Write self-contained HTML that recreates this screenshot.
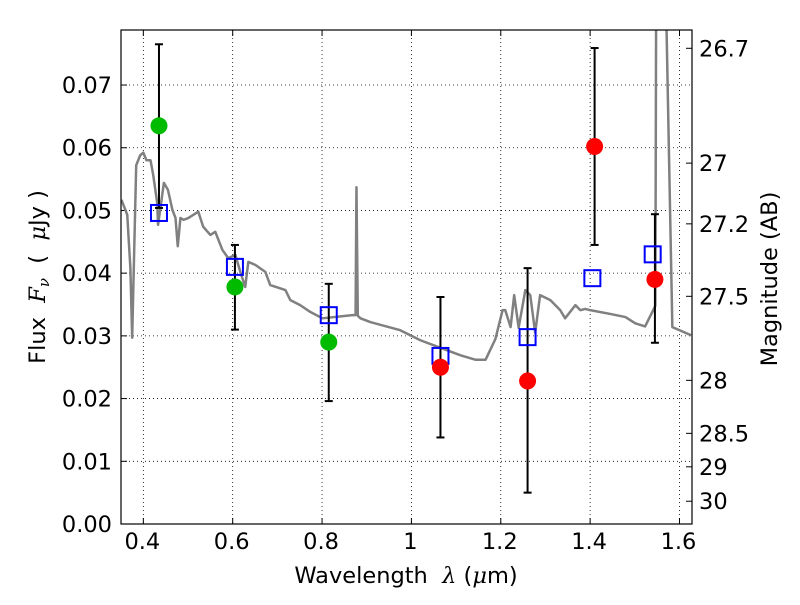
<!DOCTYPE html>
<html><head><meta charset="utf-8"><style>
body{margin:0;background:#fff}
svg text{font-family:"DejaVu Sans","Liberation Sans",sans-serif;fill:#000;white-space:pre}
</style></head><body>
<svg id="c" width="800" height="600"></svg>
<script>
const sedLam=[0.351,0.364,0.371,0.375,0.384,0.393,0.400,0.407,0.416,0.422,0.431,0.433,0.446,0.455,0.465,0.472,0.477,0.483,0.490,0.501,0.523,0.534,0.550,0.561,0.577,0.590,0.606,0.617,0.628,0.635,0.651,0.673,0.684,0.718,0.729,0.751,0.774,0.801,0.868,0.875,0.877,0.880,0.886,0.908,0.975,1.020,1.065,1.110,1.143,1.166,1.188,1.204,1.210,1.222,1.230,1.240,1.255,1.266,1.277,1.288,1.311,1.333,1.344,1.367,1.378,1.389,1.400,1.445,1.479,1.501,1.523,1.546,1.548,1.568,1.584,1.626];
const sedFlux=[0.0517,0.0493,0.0408,0.0297,0.0572,0.0588,0.0592,0.0580,0.0580,0.0557,0.0512,0.0477,0.0544,0.0533,0.0501,0.0488,0.0443,0.0488,0.0485,0.0488,0.0498,0.0474,0.0461,0.0466,0.0437,0.0424,0.0429,0.0402,0.0378,0.0418,0.0413,0.0402,0.0381,0.0373,0.0357,0.0349,0.0338,0.0328,0.0333,0.0333,0.0537,0.0332,0.0328,0.0322,0.0309,0.0293,0.0281,0.0269,0.0262,0.0262,0.0295,0.0341,0.0341,0.0314,0.0365,0.0313,0.0373,0.0365,0.0305,0.0365,0.0357,0.0341,0.0328,0.0349,0.0341,0.0343,0.0341,0.0335,0.0330,0.0320,0.0315,0.0348,0.0900,0.0900,0.0314,0.0301];
const obsLam=[0.435,0.605,0.815,1.065,1.26,1.41,1.545];
const obsFlux=[0.0635,0.0378,0.0290,0.0250,0.0228,0.0602,0.0390];
const obsErrHi=[0.0765,0.0445,0.0383,0.0362,0.0408,0.0759,0.0494];
const obsErrLo=[0.0504,0.0310,0.0196,0.0138,0.0050,0.0445,0.0289];
const obsColor=['#00bb00','#00bb00','#00bb00','red','red','red','red'];
const modLam=[0.435,0.605,0.815,1.065,1.26,1.405,1.54];
const modFlux=[0.0496,0.0410,0.0333,0.0268,0.0298,0.0392,0.0430];
const xTicks=[0.4,0.6,0.8,1,1.2,1.4,1.6];
const yTicks=[0,0.01,0.02,0.03,0.04,0.05,0.06,0.07];
const magTicks=[26.7,27,27.2,27.5,28,28.5,29,30];

const L=121,R=692,T=30,B=524,X0=0.35,X1=1.628,Y0=0,Y1=(524-30)/6271;
const X=v=>L+(v-X0)/(X1-X0)*(R-L);
const Y=v=>B-(v-Y0)/(Y1-Y0)*(B-T);
const FS=22.5;
const svg=document.getElementById('c');const NS='http://www.w3.org/2000/svg';
function mk(t,a,p){const e=document.createElementNS(NS,t);for(const k in a)e.setAttribute(k,a[k]);(p||svg).appendChild(e);return e;}
const defs=mk('defs',{});const cp=mk('clipPath',{id:'cp'},defs);mk('rect',{x:L,y:T,width:R-L,height:B-T},cp);
const grid=mk('g',{});


xTicks.forEach(v=>{const x=X(v);
mk('line',{x1:x,x2:x,y1:T,y2:B,stroke:'#000','stroke-width':0.8,'stroke-dasharray':'1,3'},grid);
mk('line',{x1:x,x2:x,y1:B,y2:B-6,stroke:'#000'});mk('line',{x1:x,x2:x,y1:T,y2:T+6,stroke:'#000'});
const t=mk('text',{x:x-1,y:B+25,'text-anchor':'middle','font-size':FS});t.textContent=(v==1?'1':v.toFixed(1));

});
yTicks.forEach(v=>{const y=Y(v);
mk('line',{x1:L,x2:R,y1:y,y2:y,stroke:'#000','stroke-width':0.8,'stroke-dasharray':'1,3'},grid);
mk('line',{x1:L,x2:L+6,y1:y,y2:y,stroke:'#000'});
const t=mk('text',{x:L-9,y:y+8,'text-anchor':'end','font-size':FS});t.textContent=v.toFixed(2);

});
magTicks.forEach(m=>{const y=Y(Math.pow(10,(23.9-m)/2.5));
mk('line',{x1:R-6,x2:R,y1:y,y2:y,stroke:'#000'});
const t=mk('text',{x:R+7,y:y+8,'font-size':FS});t.textContent=String(m);

});
const g=mk('g',{'clip-path':'url(#cp)'});
const sed=mk('polyline',{points:sedLam.map((l,i)=>X(l)+','+Y(sedFlux[i])).join(' '),fill:'none',stroke:'#808080','stroke-width':2.5,'stroke-linejoin':'round'},g);


obsLam.forEach((l,i)=>{const x=X(l);
const e=mk('g',{},g);


mk('line',{x1:x,x2:x,y1:Y(obsErrHi[i]),y2:Y(obsErrLo[i]),stroke:'#000','stroke-width':2},e);
[obsErrHi[i],obsErrLo[i]].forEach(v=>mk('line',{x1:x-4,x2:x+4,y1:Y(v),y2:Y(v),stroke:'#000','stroke-width':2},e));});
modLam.forEach((l,i)=>{const r=mk('rect',{x:X(l)-8,y:Y(modFlux[i])-8,width:16,height:16,fill:'none',stroke:'#0000ff','stroke-width':2},g);

});
obsLam.forEach((l,i)=>{const c=mk('circle',{cx:X(l),cy:Y(obsFlux[i]),r:8.5,fill:obsColor[i]},g);

});
const fr=mk('rect',{x:L,y:T,width:R-L,height:B-T,fill:'none',stroke:'#000','stroke-width':1.2});


const xt=mk('text',{x:406,y:583,'text-anchor':'middle','font-size':FS});
xt.innerHTML='Wavelength  <tspan font-style="italic" font-family="DejaVu Serif">λ</tspan> (<tspan font-style="italic" font-family="DejaVu Serif">μ</tspan>m)';


const yt=mk('text',{x:0,y:0,'text-anchor':'middle','font-size':FS,transform:'translate(45,277) rotate(-90)'});
yt.innerHTML='Flux  <tspan font-style="italic" font-family="DejaVu Serif">F</tspan><tspan font-size="15" font-style="italic" font-family="DejaVu Serif" dy="4">ν</tspan><tspan dy="-4">  (  </tspan><tspan font-style="italic" font-family="DejaVu Serif">μ</tspan>Jy )';


const rt=mk('text',{x:0,y:0,'text-anchor':'middle','font-size':FS,transform:'translate(777,279) rotate(-90)'});
rt.textContent='Magnitude (AB)';


</script>
</body></html>
